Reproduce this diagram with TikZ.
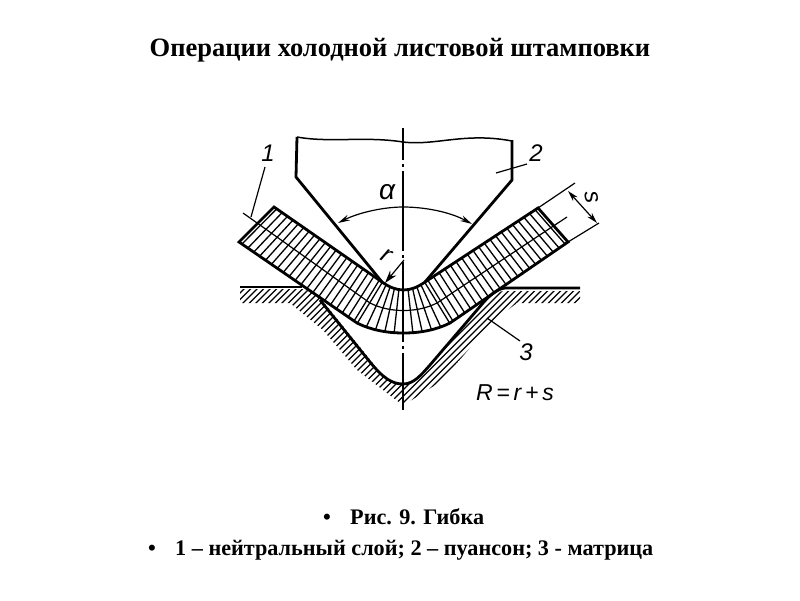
\documentclass[tikz,border=0pt]{standalone}
\usepackage{fontspec}
\setmainfont{Liberation Serif}
\newfontfamily\drawfont[ItalicFont={Liberation Sans Italic}]{Liberation Sans}
\usetikzlibrary{arrows.meta}
\tikzset{
  outline/.style={line width=2.8pt,line join=miter},
  hairline/.style={line width=1.2pt},
  thinhatch/.style={line width=1.3pt},
  leader/.style={line width=1.2pt},
  sketchlabel/.style={inner sep=0pt,font=\drawfont\itshape\fontsize{23}{23}\selectfont},
  slidetext/.style={inner sep=0pt,anchor=base west,font=\bfseries\fontsize{22.2}{22.2}\selectfont},
  dimarrow/.style={line width=1.2pt,{Stealth[length=11pt,width=6pt]}-{Stealth[length=11pt,width=6pt]}},
}
\begin{document}
\begin{tikzpicture}[x=1pt,y=-1pt]
\useasboundingbox (0,0) rectangle (800,600);
\fill[white] (0,0) rectangle (800,600);
\node[inner sep=0pt,anchor=base,font=\bfseries\fontsize{26.5}{26.5}\selectfont] (title) at (400,56) {Операции холодной листовой штамповки};

% die hatching
\begin{scope}
\clip (240,289) -- (308,289) -- (322,300) -- (372,362) .. controls (385,380) and (392,385) .. (403,385) .. controls (415,385) and (422,376) .. (430,366) -- (483,305) .. controls (490,297) and (497,291) .. (505,291) -- (580,291) -- (580,303) -- (517,303) -- (497,318) -- (475,342) -- (457,363) -- (440,382) -- (407,403) -- (400,403) -- (357,370) -- (323,330) -- (290,303) -- (240,303) -- cycle;
\foreach \c in {520,526.5,...,890}
  \draw[thinhatch] (\c-200,200) -- (\c-450,450);
\end{scope}
% die outline
\draw[outline] (240,287) -- (302,287);
\draw[outline] (320,300) -- (370,362) .. controls (383,378) and (392,384) .. (403,384) .. controls (414,384) and (421,375) .. (430,365) -- (483,303) .. controls (490,295) and (497,289) .. (505,288) -- (580,288);

% sheet hatching
\coordinate (C) at (403.5,252);
\foreach \i in {0,...,19}{
  \pgfmathsetmacro{\t}{(\i+0.5)/20}
  \draw[thinhatch] ({382+(274-382)*\t},{282+(207-282)*\t}) -- ({357+(239-357)*\t},{323+(242-323)*\t});
  \draw[thinhatch] ({425+(538-425)*\t},{282+(208-282)*\t}) -- ({450+(568-450)*\t},{323+(242-323)*\t});
}
\foreach \a in {-35,-28,...,35}
  \draw[thinhatch] ({403.5+37*sin(\a)},{252+37*cos(\a)}) -- ({403.5+(81+4*(\a/35)^2)*sin(\a*33/35)},{252+(81+4*(\a/35)^2)*cos(\a*33/35)});
% neutral layer
\draw[hairline] (243,213) -- (370,303) .. controls (380,308) and (391,310.5) .. (403.5,310.5) .. controls (416,310.5) and (427,308) .. (437,303) -- (567,217);
% sheet outline
\draw[outline] (274,207) -- (382,282) .. controls (389,287) and (396,290) .. (403.5,290) .. controls (411,290) and (418,287) .. (425,282) -- (538,208) -- (568,242) -- (450,323) .. controls (436,330) and (420,333) .. (403.5,333) .. controls (387,333) and (371,330) .. (357,323) -- (239,242) -- cycle;

% punch
\draw[outline] (382,282) -- (296,177) -- (297,137);
\draw[outline] (425,282) -- (512,180) -- (512,140);
\draw[line width=1.5pt] (297,137) .. controls (330,143) and (365,136) .. (403,142) .. controls (435,146) and (465,132) .. (512,141);

% axis
\draw[line width=1.5pt,dash pattern=on 80pt off 4pt on 3pt off 4pt,dash phase=48pt] (403,128) -- (403,410);

% alpha arc
\coordinate (aL) at (338,223);
\coordinate (aR) at (472,224);
\draw[line width=1.2pt,{Stealth[length=12pt,width=6pt]}-{Stealth[length=12pt,width=6pt]}] (aL) .. controls (360,212) and (385,207) .. (403,207) .. controls (425,207) and (450,212) .. (aR);
\node[sketchlabel,font=\drawfont\itshape\fontsize{28}{28}\selectfont] (alpha) at (387,192) {α};

% r
\coordinate (rA) at (404,260);
\coordinate (rB) at (385,283);
\draw[line width=1.2pt,-{Stealth[length=13pt,width=8pt]}] (rA) -- (rB);
\node[sketchlabel,rotate=-30,font=\drawfont\itshape\fontsize{25}{25}\selectfont] (rlab) at (386,256) {r};

% s dimension
\coordinate (s1) at (538,208);
\coordinate (s1e) at (575,183);
\coordinate (s2) at (568,242);
\coordinate (s2e) at (599,223);
\draw[hairline] (s1) -- (s1e);
\draw[hairline] (s2) -- (s2e);
\coordinate (sa) at (568,191);
\coordinate (sb) at (597,223);
\draw[dimarrow] (sa) -- (sb);
\node[sketchlabel,rotate=-80,font=\drawfont\itshape\fontsize{24}{24}\selectfont] (slab) at (592,197) {s};

% leaders and labels
\node[sketchlabel,font=\drawfont\itshape\fontsize{24}{24}\selectfont] (one) at (268,153) {1};
\coordinate (oneA) at (265,167);
\coordinate (oneB) at (251,217);
\draw[leader] (oneA) -- (oneB);
\node[sketchlabel,font=\drawfont\itshape\fontsize{24}{24}\selectfont] (two) at (536,153) {2};
\coordinate (twoA) at (496,173);
\coordinate (twoB) at (527,164);
\draw[leader] (twoA) -- (twoB);
\node[sketchlabel,font=\drawfont\itshape\fontsize{24}{24}\selectfont] (three) at (526,352) {3};
\coordinate (thrA) at (487,318);
\coordinate (thrB) at (520,341);
\draw[leader] (thrA) -- (thrB);
\node[sketchlabel] (formula) at (515,393) {R\,=\,r\,+\,s};

% caption
\node[slidetext] (b1) at (323,524) {•};
\node[slidetext] (cap1) at (350,524) {Рис. 9. Гибка};
\node[slidetext] (b2) at (148,555) {•};
\node[slidetext] (cap2) at (175,555) {1 – нейтральный слой; 2 – пуансон; 3 - матрица};
\end{tikzpicture}
\end{document}
